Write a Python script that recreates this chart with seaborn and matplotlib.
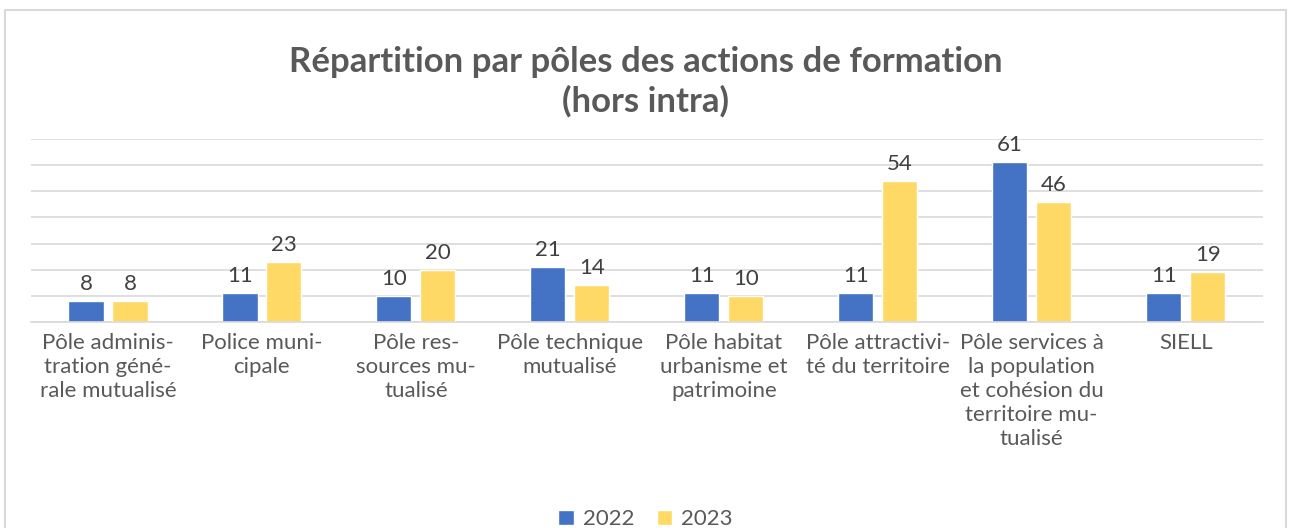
import pandas as pd
import matplotlib.pyplot as plt
import seaborn as sns
from matplotlib.patches import Rectangle

# Data
categories = [
    "Pôle adminis-\ntration géné-\nrale mutualisé",
    "Police muni-\ncipale",
    "Pôle res-\nsources mu-\ntualisé",
    "Pôle technique\nmutualisé",
    "Pôle habitat\nurbanisme et\npatrimoine",
    "Pôle attractivi-\nté du territoire",
    "Pôle services à\nla population\net cohésion du\nterritoire mu-\ntualisé",
    "SIELL",
]
values_2022 = [8, 11, 10, 21, 11, 11, 61, 11]
values_2023 = [8, 23, 20, 14, 10, 54, 46, 19]
years = ["2022", "2023"]

BLUE = "#4472C4"
YELLOW = "#FFD966"
TEXT = "#595959"

sns.set_theme(style="white")
plt.rcParams["font.family"] = ["Lato", "DejaVu Sans"]

df = pd.DataFrame({
    "Pôle": categories * 2,
    "Année": [years[0]] * len(categories) + [years[1]] * len(categories),
    "Actions": values_2022 + values_2023,
})

fig = plt.figure(figsize=(12.91, 5.28), dpi=100)
ax = fig.add_axes([0.024, 0.39, 0.954, 0.347])

sns.barplot(
    data=df, x="Pôle", y="Actions", hue="Année",
    palette=[BLUE, YELLOW], width=0.571, gap=0.2,
    saturation=1, ax=ax, legend=True,
)

for cont in ax.containers:
    ax.bar_label(cont, padding=5, fontsize=16, color="#404040")

ax.set_ylim(0, 70)
ax.set_yticks(range(0, 71, 10))
ax.set_yticklabels([])
ax.yaxis.grid(True, color="#D9D9D9", linewidth=1.2)
ax.set_axisbelow(True)
ax.tick_params(axis="both", length=0)
ax.tick_params(axis="x", labelsize=16, labelcolor=TEXT, pad=8)
for lbl in ax.get_xticklabels():
    lbl.set_verticalalignment("top")
    lbl.set_linespacing(1.25)
ax.set_xlabel("")
ax.set_ylabel("")
for s in ["top", "right", "left"]:
    ax.spines[s].set_visible(False)
ax.spines["bottom"].set_color("#D9D9D9")
ax.spines["bottom"].set_linewidth(1.2)
ax.set_xlim(-0.5, len(categories) - 0.5)

ax.legend(
    loc="lower center", bbox_to_anchor=(0.5, -0.04), bbox_transform=fig.transFigure,
    ncol=2, frameon=False, fontsize=16, labelcolor=TEXT,
    handlelength=0.7, handleheight=0.7, handletextpad=0.4, columnspacing=1.0,
)

fig.text(0.5, 0.845, "Répartition par pôles des actions de formation\n(hors intra)",
         ha="center", va="center", fontsize=25, fontweight="bold",
         color=TEXT, linespacing=1.25)

fig.patches.append(Rectangle((0.004, -0.01), 0.992, 0.991, transform=fig.transFigure,
                             fill=False, edgecolor="#D9D9D9", linewidth=1.5))

fig.savefig("out.png", dpi=100)
